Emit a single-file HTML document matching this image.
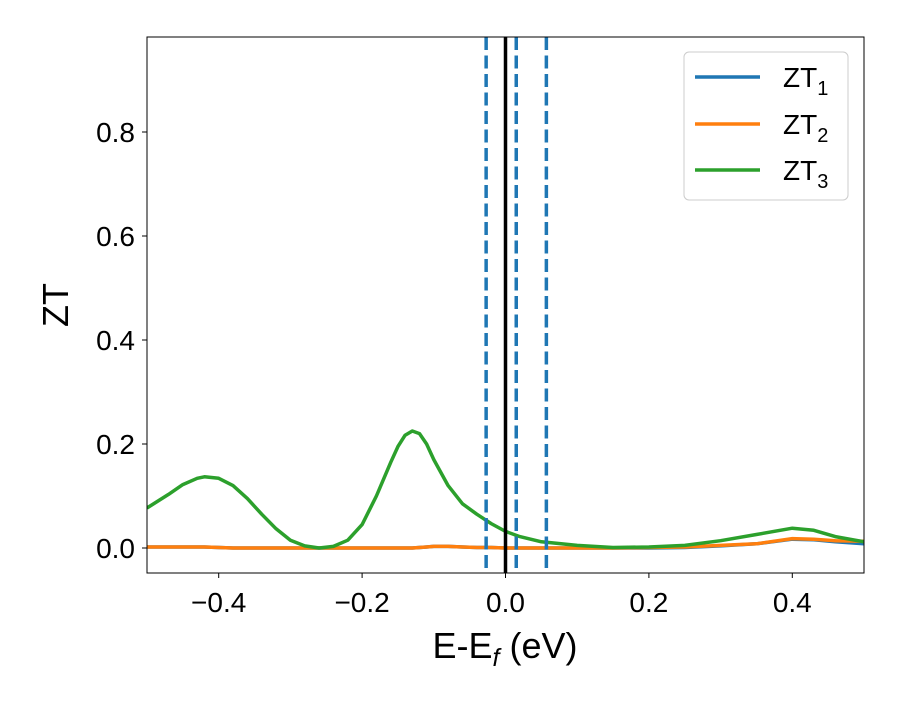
<!DOCTYPE html>
<html><head><meta charset="utf-8"><style>
body{margin:0;background:#fff;}
svg text{font-family:"Liberation Sans","DejaVu Sans",sans-serif;}
</style></head><body>
<svg id="chart" width="900" height="700" xmlns="http://www.w3.org/2000/svg"></svg>
<script>
const xTicks=[-0.4,-0.2,0.0,0.2,0.4];
const xTickLabels=["\u22120.4","\u22120.2","0.0","0.2","0.4"];
const yTicks=[0.0,0.2,0.4,0.6,0.8];
const yTickLabels=["0.0","0.2","0.4","0.6","0.8"];
const energies=[-0.5,-0.47,-0.45,-0.43,-0.42,-0.4,-0.38,-0.36,-0.34,-0.32,-0.3,-0.28,-0.26,-0.24,-0.22,-0.2,-0.18,-0.16,-0.15,-0.14,-0.13,-0.12,-0.11,-0.1,-0.08,-0.06,-0.04,-0.02,0.0,0.02,0.05,0.1,0.15,0.2,0.25,0.3,0.35,0.4,0.43,0.46,0.5];
const zt3=[0.077,0.103,0.122,0.134,0.137,0.134,0.12,0.095,0.065,0.037,0.015,0.004,0.0,0.003,0.015,0.045,0.1,0.165,0.195,0.217,0.225,0.22,0.2,0.17,0.12,0.085,0.065,0.047,0.032,0.022,0.012,0.005,0.001,0.002,0.005,0.014,0.026,0.038,0.034,0.022,0.012];
const zt2=[0.002,0.002,0.002,0.002,0.002,0.001,0.0,0.0,0.0,0.0,0.0,0.0,0.0,0.0,0.0,0.0,0.0,0.0,0.0,0.0,0.0,0.001,0.002,0.003,0.003,0.002,0.001,0.001,0.0,0.0,0.0,0.0,0.0,0.001,0.002,0.005,0.008,0.018,0.017,0.014,0.013];
const zt1=[0.002,0.002,0.002,0.002,0.002,0.001,0.0,0.0,0.0,0.0,0.0,0.0,0.0,0.0,0.0,0.0,0.0,0.0,0.0,0.0,0.0,0.001,0.002,0.003,0.003,0.002,0.001,0.001,0.0,0.0,0.0,0.0,0.0,0.0,0.001,0.004,0.008,0.017,0.016,0.012,0.008];
const dashedLines=[-0.027,0.015,0.057];
const fermiLine=[0.0];

const L=147,R=864,T=37,B=573;
const x=v=>L+(v+0.5)/1.0*(R-L);
const y=v=>548-v/0.2*104;
const svg=document.getElementById('chart');
const NS="http://www.w3.org/2000/svg";
function mk(tag,attrs){const e=document.createElementNS(NS,tag);for(const k in attrs)e.setAttribute(k,attrs[k]);svg.appendChild(e);return e;}

const clip=document.createElementNS(NS,'clipPath');clip.setAttribute('id','c');
const cr=document.createElementNS(NS,'rect');cr.setAttribute('x',L);cr.setAttribute('y',T);cr.setAttribute('width',R-L);cr.setAttribute('height',B-T);
clip.appendChild(cr);svg.appendChild(clip);

function series(data,color,name){
  const p=mk('path',{d:data.map((v,i)=>(i?'L':'M')+x(energies[i]).toFixed(1)+','+y(v).toFixed(1)).join(''),fill:'none',stroke:color,'stroke-width':3.5,'clip-path':'url(#c)','stroke-linejoin':'round'});
  
  
}
series(zt1,'#1f77b4','zt1-line');
series(zt2,'#ff7f0e','zt2-line');
series(zt3,'#2ca02c','zt3-line');

dashedLines.forEach(v=>{
  const l=mk('line',{x1:x(v),x2:x(v),y1:T,y2:B,stroke:'#1f77b4','stroke-width':3.5,'stroke-dasharray':'13,5.5'});
  
  
});
fermiLine.forEach(v=>{
  const l=mk('line',{x1:x(v),x2:x(v),y1:T,y2:B,stroke:'#000','stroke-width':3.5});
  
  
});

const frame=mk('rect',{x:L,y:T,width:R-L,height:B-T,fill:'none',stroke:'#000','stroke-width':1});



xTicks.forEach((v,i)=>{
  const t=mk('line',{x1:x(v),x2:x(v),y1:B,y2:B+5,stroke:'#000','stroke-width':1});
  
  
  const tx=mk('text',{x:x(v),y:B+39,'font-size':28,'text-anchor':'middle'});
  tx.textContent=xTickLabels[i];
  
  
});
yTicks.forEach((v,i)=>{
  const t=mk('line',{x1:L-5,x2:L,y1:y(v),y2:y(v),stroke:'#000','stroke-width':1});
  
  
  const tx=mk('text',{x:L-12,y:y(v)+10,'font-size':28,'text-anchor':'end'});
  tx.textContent=yTickLabels[i];
  
  
});
</script>
<svg style="position:absolute;left:0;top:0" width="900" height="700" xmlns="http://www.w3.org/2000/svg">
<text x="505" y="658" font-size="36" text-anchor="middle" font-family="Liberation Sans, sans-serif">E-E<tspan font-size="25" dy="8" font-style="italic">f</tspan><tspan dy="-8"> (eV)</tspan></text>
<text transform="translate(68,305) rotate(-90)" font-size="36" text-anchor="middle" font-family="Liberation Sans, sans-serif">ZT</text>
<g>
<rect x="684" y="52" width="164" height="148" rx="5" fill="#fff" fill-opacity="0.8" stroke="#ccc" stroke-width="1"/>
<g><line x1="695" x2="760" y1="77" y2="77" stroke="#1f77b4" stroke-width="3.5"/><text x="783" y="87" font-size="28" font-family="Liberation Sans, sans-serif">ZT<tspan font-size="20" dy="8">1</tspan></text></g>
<g><line x1="695" x2="760" y1="124" y2="124" stroke="#ff7f0e" stroke-width="3.5"/><text x="783" y="134" font-size="28" font-family="Liberation Sans, sans-serif">ZT<tspan font-size="20" dy="8">2</tspan></text></g>
<g><line x1="695" x2="760" y1="170" y2="170" stroke="#2ca02c" stroke-width="3.5"/><text x="783" y="180" font-size="28" font-family="Liberation Sans, sans-serif">ZT<tspan font-size="20" dy="8">3</tspan></text></g>
</g>
</svg>
</body></html>
